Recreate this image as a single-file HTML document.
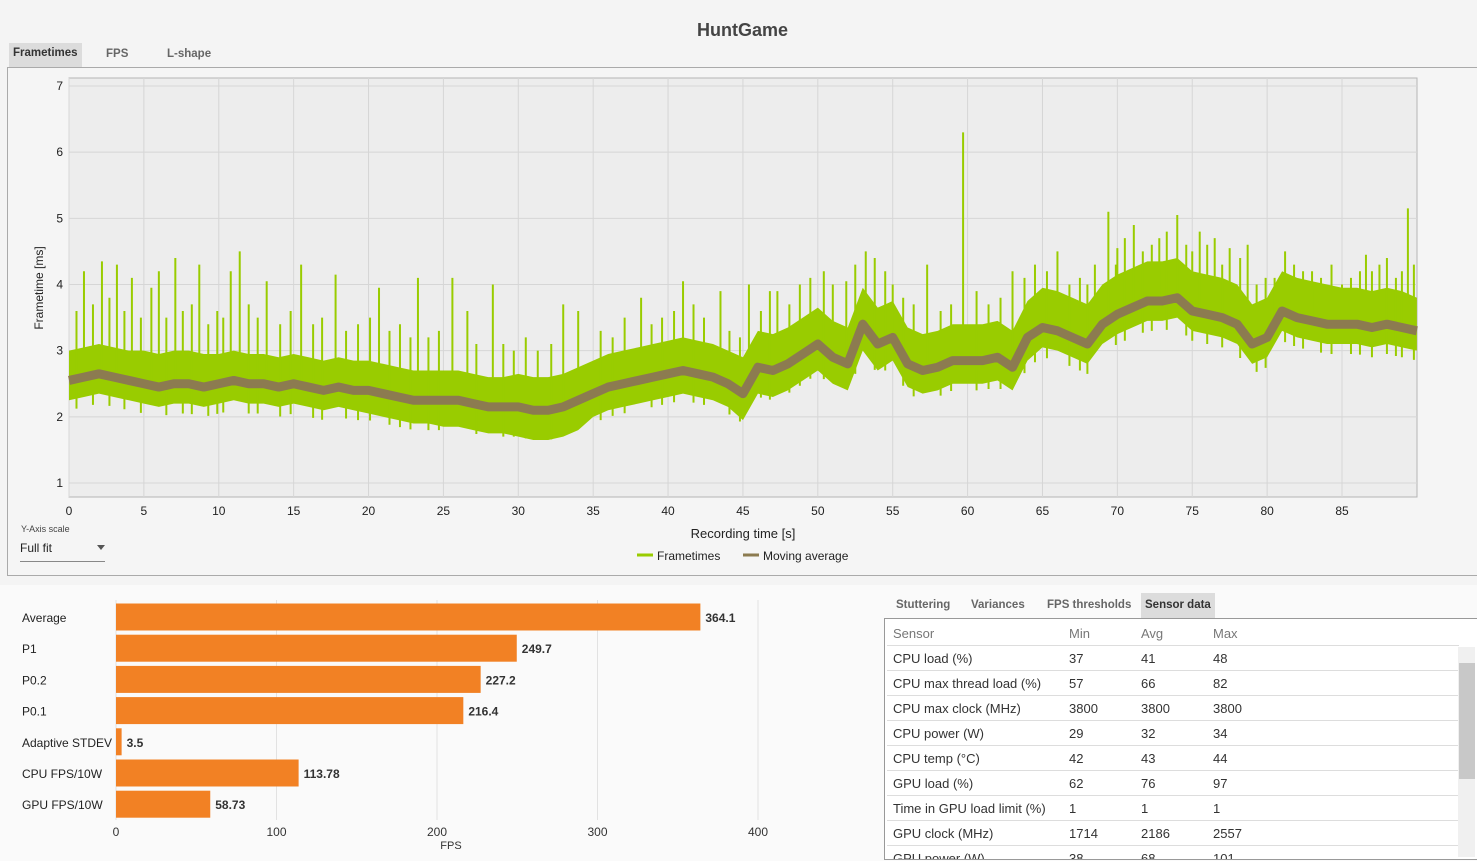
<!DOCTYPE html>
<html><head><meta charset="utf-8">
<style>
body{margin:0;width:1477px;height:861px;background:#f4f4f4;font-family:"Liberation Sans",sans-serif;overflow:hidden;position:relative;color:#222}
.abs{position:absolute}
.tab{position:absolute;font-size:11.5px;font-weight:bold;color:#666;padding:4px 4px}
.tab.act{background:#dcdcdc;color:#333}
table{border-collapse:collapse;font-size:13px;color:#333}
td{height:24px;border-bottom:1px solid #ddd;padding:0}
</style></head><body>
<div class="abs" style="left:4px;width:1477px;top:20px;text-align:center;font-size:18px;font-weight:bold;color:#444">HuntGame</div>
<div class="tab act" style="left:9px;top:43px;height:16px">Frametimes</div>
<div class="tab" style="left:102px;top:44px">FPS</div>
<div class="tab" style="left:163px;top:44px">L-shape</div>
<div class="abs" style="left:7px;top:67px;width:1472px;height:507px;border:1px solid #aaa;background:#f5f5f5"></div>
<svg class="abs" style="left:0;top:0" width="1477" height="580" id="ft"></svg>
<div class="abs" style="left:21px;top:524px;font-size:9px;color:#444">Y-Axis scale</div>
<div class="abs" style="left:20px;top:541px;width:85px;height:20px;border-bottom:1px solid #888;font-size:12px">Full fit<span style="position:absolute;right:0;top:4px;border:4px solid transparent;border-top:5px solid #555"></span></div>
<div class="abs" style="left:0;top:585px;width:1477px;height:276px;background:#fafafa"></div>
<svg class="abs" style="left:0;top:585px" width="870" height="276" id="bar"></svg>
<div class="tab" style="left:892px;top:595px">Stuttering</div>
<div class="tab" style="left:967px;top:595px">Variances</div>
<div class="tab" style="left:1043px;top:595px">FPS thresholds</div>
<div class="tab act" style="left:1141px;top:593px;height:17px;padding-top:6px">Sensor data</div>
<div class="abs" style="left:884px;top:618px;width:592px;height:240px;border:1px solid #999;background:#fff;overflow:hidden">
<table style="position:absolute;left:2px;top:2px;width:572px">
<tr style="color:#777"><td style="padding-left:6px;width:176px">Sensor</td><td style="width:72px">Min</td><td style="width:72px">Avg</td><td>Max</td></tr>
<tr><td style="padding-left:6px">CPU load (%)</td><td>37</td><td>41</td><td>48</td></tr>
<tr><td style="padding-left:6px">CPU max thread load (%)</td><td>57</td><td>66</td><td>82</td></tr>
<tr><td style="padding-left:6px">CPU max clock (MHz)</td><td>3800</td><td>3800</td><td>3800</td></tr>
<tr><td style="padding-left:6px">CPU power (W)</td><td>29</td><td>32</td><td>34</td></tr>
<tr><td style="padding-left:6px">CPU temp (°C)</td><td>42</td><td>43</td><td>44</td></tr>
<tr><td style="padding-left:6px">GPU load (%)</td><td>62</td><td>76</td><td>97</td></tr>
<tr><td style="padding-left:6px">Time in GPU load limit (%)</td><td>1</td><td>1</td><td>1</td></tr>
<tr><td style="padding-left:6px">GPU clock (MHz)</td><td>1714</td><td>2186</td><td>2557</td></tr>
<tr><td style="padding-left:6px">GPU power (W)</td><td>38</td><td>68</td><td>101</td></tr>
</table>
<div class="abs" style="left:573px;top:28px;width:17px;height:210px;background:#f0f0f0"><div style="position:absolute;left:1px;top:16px;width:16px;height:116px;background:#c8c8c8"></div></div>
</div>
<script>
// ---------- frametime data ----------
const maTimes=[0,1,2,3,4,5,6,7,8,9,10,11,12,13,14,15,16,17,18,19,20,21,22,23,24,25,26,27,28,29,30,31,32,33,34,35,36,37,38,39,40,41,42,43,44,45,46,47,48,49,50,51,52,53,54,55,56,57,58,59,60,61,62,63,64,65,66,67,68,69,70,71,72,73,74,75,76,77,78,79,80,81,82,83,84,85,86,87,88,89,90];
const maValues=[2.55,2.6,2.65,2.6,2.55,2.5,2.45,2.5,2.5,2.45,2.5,2.55,2.5,2.5,2.45,2.5,2.45,2.4,2.45,2.4,2.4,2.35,2.3,2.25,2.25,2.25,2.25,2.2,2.15,2.15,2.15,2.1,2.1,2.15,2.25,2.35,2.45,2.5,2.55,2.6,2.65,2.7,2.65,2.6,2.5,2.35,2.75,2.7,2.8,2.95,3.1,2.9,2.8,3.4,3.1,3.2,2.8,2.7,2.75,2.85,2.85,2.85,2.9,2.75,3.2,3.35,3.3,3.2,3.1,3.4,3.55,3.65,3.75,3.75,3.8,3.6,3.55,3.5,3.4,3.1,3.2,3.6,3.5,3.45,3.4,3.4,3.4,3.35,3.4,3.35,3.3];
const spreadUp=[0.45,0.5,0.45,0.45,0.45,0.45,0.5,0.5,0.5,0.55,0.55,0.55,0.55,0.6,0.6,0.6,0.6,0.55,0.5];
const spreadDown=[0.3,0.3,0.3,0.3,0.35,0.4,0.45,0.35,0.35,0.4,0.4,0.35,0.35,0.3,0.3,0.3,0.3,0.3,0.3];
const spikeTimes=[1.0,2.2,3.2,4.2,5.5,6,7.1,8.7,10.8,11.4,13.2,15.5,17.8,20.7,23.3,25.6,26.6,28.3,33,34,38.2,41,43.5,45.4,47.3,51,51.9,53.2,55,57.3,59.7,63,66,68.5,69.4,70,71.1,72.8,74,75.5,76.5,77.5,78.7,80.5,83,85,86.6,87.5,89.4];
const spikeValues=[4.2,4.35,4.3,4.1,3.95,4.2,4.4,4.3,4.2,4.5,4.05,4.3,4.15,3.95,4.1,4.1,3.6,4.0,3.7,3.6,3.8,4.05,3.9,4.0,3.9,4.0,4.05,4.5,4.0,4.3,6.3,4.2,4.5,4.3,5.1,4.55,4.9,4.7,5.05,4.8,4.7,4.55,4.6,4.1,4.2,4.0,4.45,4.3,5.15];
const midSpikeTimes=[0.5,1.6,2.7,3.7,4.8,6.5,7.6,8.2,9.3,9.9,10.3,12.0,12.6,14.1,14.8,16.3,16.9,18.5,19.3,20.1,21.4,22.1,22.8,24.0,24.7,27.2,29.0,29.7,30.5,31.3,32.2,35.5,36.3,37.1,38.9,39.6,40.4,41.7,42.4,44.1,44.8,46.2,46.8,48.1,48.8,49.5,50.4,52.5,53.8,54.5,55.7,56.4,58.2,58.9,60.6,61.4,62.2,63.8,64.5,65.3,66.8,67.5,68.0,69.9,70.5,71.7,72.3,73.3,74.6,75.0,76.0,77.0,78.2,79.3,79.9,81.2,81.8,82.4,83.6,84.3,85.6,86.2,87.0,88.0,88.6,89.0,89.8];
const midSpikeValues=[3.6,3.7,3.8,3.6,3.5,3.5,3.6,3.7,3.4,3.6,3.5,3.7,3.5,3.4,3.6,3.4,3.5,3.3,3.4,3.5,3.3,3.4,3.2,3.2,3.3,3.1,3.1,3.0,3.2,3.0,3.1,3.3,3.2,3.5,3.4,3.5,3.6,3.7,3.5,3.3,3.2,3.6,3.9,3.7,4.0,4.1,4.2,4.3,4.4,4.2,3.8,3.7,3.6,3.7,3.9,3.7,3.8,4.1,4.3,4.2,4.0,4.1,4.0,4.3,4.7,4.5,4.6,4.8,4.6,4.5,4.6,4.3,4.4,4.0,4.1,4.5,4.3,4.2,4.1,4.3,4.1,4.2,4.2,4.4,4.1,4.2,4.3];
const xTicks=[0,5,10,15,20,25,30,35,40,45,50,55,60,65,70,75,80,85];
const yTicks=[1,2,3,4,5,6,7];
// ---------- bar data ----------
const barLabels=["Average","P1","P0.2","P0.1","Adaptive STDEV","CPU FPS/10W","GPU FPS/10W"];
const barValues=[364.1,249.7,227.2,216.4,3.5,113.78,58.73];
const barValueText=["364.1","249.7","227.2","216.4","3.5","113.78","58.73"];
const barTicks=[0,100,200,300,400];

const NS="http://www.w3.org/2000/svg";
function mk(p,tag,at){const e=document.createElementNS(NS,tag);for(const k in at)e.setAttribute(k,at[k]);p.appendChild(e);return e;}
const ft=document.getElementById('ft');
const X=t=>69+t*(1342-69)/85;
const Y=v=>483-(v-1)*(483-86)/6;
const bg=mk(ft,'rect',{x:69,y:78,width:1348,height:419,fill:'#ededed',stroke:'#b5b5b5'});


xTicks.forEach(t=>{
  mk(ft,'line',{x1:X(t),x2:X(t),y1:78,y2:497,stroke:'#d6d6d6'});
  const tx=mk(ft,'text',{x:X(t),y:515,'font-size':12,'text-anchor':'middle',fill:'#222'});tx.textContent=t;
  
  
});
yTicks.forEach(v=>{
  mk(ft,'line',{x1:69,x2:1417,y1:Y(v),y2:Y(v),stroke:'#d6d6d6'});
  const tx=mk(ft,'text',{x:63,y:Y(v)+4,'font-size':12,'text-anchor':'end',fill:'#222'});tx.textContent=v;
  
  
});
let up=[],dn=[];
maTimes.forEach((t,i)=>{const s=Math.min(18,Math.floor(t/5));up.push(X(t)+','+Y(maValues[i]+spreadUp[s]));dn.unshift(X(t)+','+Y(maValues[i]-spreadDown[s]));});
const band=mk(ft,'polygon',{points:up.concat(dn).join(' '),fill:'#99cc00'});


function maAt(t){const i=Math.min(89,Math.floor(t));const f=t-i;return maValues[i]*(1-f)+maValues[i+1]*f;}
midSpikeTimes.forEach((t,i)=>{
  const l=mk(ft,'line',{x1:X(t),x2:X(t),y1:Y(maAt(t)-0.45),y2:Y(midSpikeValues[i]),stroke:'#99cc00','stroke-width':2});
  
  
});
spikeTimes.forEach((t,i)=>{
  const l=mk(ft,'line',{x1:X(t),x2:X(t),y1:Y(maAt(t)),y2:Y(spikeValues[i]),stroke:'#99cc00','stroke-width':2});
  
  
});
const ma=mk(ft,'polyline',{points:maTimes.map((t,i)=>X(t)+','+Y(maValues[i])).join(' '),fill:'none',stroke:'#8c7b50','stroke-width':9,'stroke-linejoin':'round'});


let t1=mk(ft,'text',{x:743,y:538,'font-size':13,'text-anchor':'middle',fill:'#222'});t1.textContent='Recording time [s]';


let t2=mk(ft,'text',{x:43,y:288,'font-size':12,'text-anchor':'middle',fill:'#222',transform:'rotate(-90 43 288)'});t2.textContent='Frametime [ms]';


mk(ft,'line',{x1:637,x2:653,y1:555,y2:555,stroke:'#99cc00','stroke-width':3});
let l1=mk(ft,'text',{x:657,y:560,'font-size':12,fill:'#222'});l1.textContent='Frametimes';


mk(ft,'line',{x1:743,x2:759,y1:555,y2:555,stroke:'#8c7b50','stroke-width':3});
let l2=mk(ft,'text',{x:763,y:560,'font-size':12,fill:'#222'});l2.textContent='Moving average';


const bar=document.getElementById('bar');
const BX=v=>116+v*(758-116)/400;
barTicks.forEach(v=>{
  mk(bar,'line',{x1:BX(v),x2:BX(v),y1:15,y2:235,stroke:'#e2e2e2'});
  const tx=mk(bar,'text',{x:BX(v),y:251,'font-size':12,'text-anchor':'middle',fill:'#333'});tx.textContent=v;
  
  
});
barLabels.forEach((lab,i)=>{
  const cy=32+i*31.2;
  const tl=mk(bar,'text',{x:22,y:cy+5,'font-size':12,fill:'#222'});tl.textContent=lab;
  
  
  const r=mk(bar,'rect',{x:116,y:cy-13.5,width:BX(barValues[i])-116,height:27,fill:'#f28124'});
  
  
  const tv=mk(bar,'text',{x:BX(barValues[i])+5,y:cy+5,'font-size':12,'font-weight':'bold',fill:'#333'});tv.textContent=barValueText[i];
  
  
});
let bt=mk(bar,'text',{x:451,y:264,'font-size':11,'text-anchor':'middle',fill:'#333'});bt.textContent='FPS';


</script>
</body></html>
